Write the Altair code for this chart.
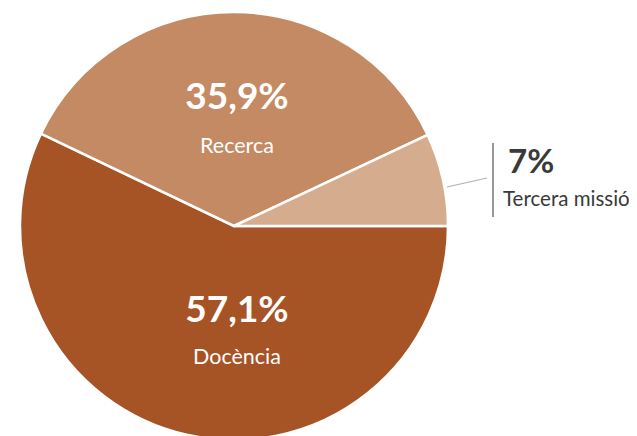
import math
import altair as alt
import pandas as pd

categories = ["Docència", "Recerca", "Tercera missió"]
values = [57.1, 35.9, 7.0]
labels = ["57,1%", "35,9%", "7%"]
colors = ["#A65426", "#C48A64", "#D6AC8F"]

df = pd.DataFrame({"cat": categories, "val": values, "idx": [0, 1, 2], "lab": labels})

CX, CY, R = 226, 218, 214
FONT = "Lato"

base = alt.Chart(df)

pie = base.mark_arc(stroke="white", strokeWidth=2.5).encode(
    theta=alt.Theta("val:Q", stack=True,
                    scale=alt.Scale(range=[math.pi / 2, math.pi / 2 + 2 * math.pi])),
    order=alt.Order("idx:Q"),
    color=alt.Color("cat:N", scale=alt.Scale(domain=categories, range=colors), legend=None),
    x=alt.value(CX), y=alt.value(CY), radius=alt.value(R),
)

def txt(cat, field, x, y, size, color, weight="normal", align="center"):
    return base.transform_filter(alt.datum.cat == cat).mark_text(
        font=FONT, fontSize=size, fontWeight=weight, color=color, align=align, baseline="alphabetic"
    ).encode(text=f"{field}:N", x=alt.value(x), y=alt.value(y))

t1 = txt("Recerca", "lab", 229, 101, 37, "white", "bold")
t2 = txt("Recerca", "cat", 229, 145, 21.5, "white")
t3 = txt("Docència", "lab", 229, 314, 37, "white", "bold")
t4 = txt("Docència", "cat", 229, 356, 21.5, "white")
t5 = txt("Tercera missió", "lab", 500, 165, 33, "#3a3a3a", "bold", "left")
t6 = txt("Tercera missió", "cat", 495, 198, 20.5, "#3a3a3a", "normal", "left")

vline = alt.Chart(pd.DataFrame({"a": [0]})).mark_rule(color="#555555", strokeWidth=1.2).encode(
    x=alt.value(485), y=alt.value(135), y2=alt.value(209))
leader = alt.Chart(pd.DataFrame({"a": [0]})).mark_rule(color="#b0b0b0", strokeWidth=1.2).encode(
    x=alt.value(439), y=alt.value(179), x2=alt.value(479), y2=alt.value(170))

chart = alt.layer(pie, leader, vline, t1, t2, t3, t4, t5, t6).properties(
    width=621, height=428, autosize=alt.AutoSizeParams(type="none"), padding=0
).configure_view(stroke=None)

chart.save("out.html", embed_options={"renderer": "svg", "actions": False})
